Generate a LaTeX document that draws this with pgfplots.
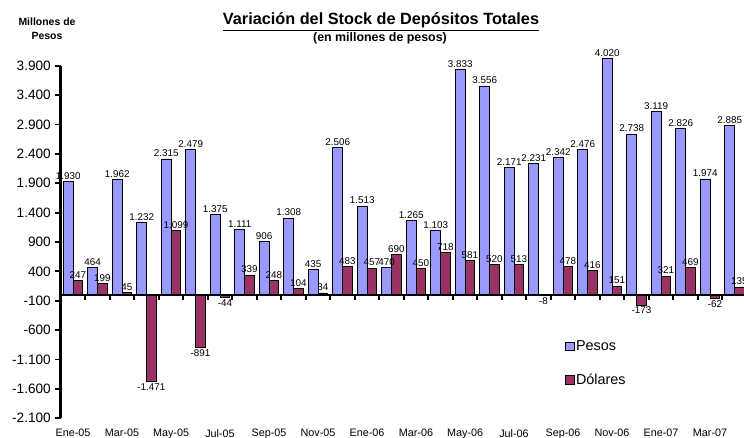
\documentclass[border=0pt]{standalone}
\usepackage{fontspec}
\setmainfont{Liberation Sans}
\usepackage{pgfplots}
\usepackage{pgfplotstable}
\pgfplotsset{compat=1.18}
\definecolor{pesos}{HTML}{9999FF}
\definecolor{dolares}{HTML}{993366}

\pgfplotstableread{
x pesos dolares
0 1930 247
1 464 199
2 1962 45
3 1232 -1471
4 2315 1099
5 2479 -891
6 1375 -44
7 1111 339
8 906 248
9 1308 104
10 435 34
11 2506 483
12 1513 457
13 470 690
14 1265 450
15 1103 718
16 3833 581
17 3556 520
18 2171 513
19 2231 -8
20 2342 478
21 2476 416
22 4020 151
23 2738 -173
24 3119 321
25 2826 469
26 1974 -62
27 2885 135
}\data

\begin{document}
\begin{tikzpicture}
\begin{axis}[
 scale only axis,
 width=514.5pt, height=264.45pt,
 xmin=-0.5, xmax=27.5,
 ymin=-2100, ymax=3900,
 clip=false,
 ybar=0pt, bar width=7.3pt,
 axis y line=left,
 axis x line*=bottom,
 x axis line style={draw=none},
 y axis line style={-, line width=2.2pt},
 xtick={0,2,...,26},
 xticklabels={Ene-05,Mar-05,May-05,Jul-05,Sep-05,Nov-05,Ene-06,Mar-06,May-06,Jul-06,Sep-06,Nov-06,Ene-07,Mar-07},
 x tick style={draw=none},
 xticklabel style={font=\fontsize{8.1}{9}\selectfont, yshift=-0.8pt},
 ytick={-2100,-1600,...,3900},
 y tick style={line width=1.4pt, black},
 tick align=outside,
 major tick length=4pt,
 yticklabel style={font=\fontsize{10.2}{11}\selectfont},
 scaled y ticks=false,
 /pgf/number format/1000 sep={.},
 /pgf/number format/assume math mode=true,
 nodes near coords,
 every node near coord/.append style={font=\fontsize{7.4}{8}\selectfont, black, inner sep=1.2pt},
 legend style={at={(0.733,0.229)}, anchor=north west, draw=none, fill=none,
   font=\fontsize{10.8}{12}\selectfont, row sep=14pt, inner sep=1pt, nodes={inner sep=1pt}},
 legend cell align=left,
 legend image code/.code={\draw[#1, line width=0.5pt, draw=black] (0pt,-3.3pt) rectangle (6.6pt,3.3pt);},
]
\addplot[fill=pesos, draw=black, line width=0.5pt] table[x=x, y=pesos] {\data};
\addplot[fill=dolares, draw=black, line width=0.5pt] table[x=x, y=dolares] {\data};
\legend{Pesos, Dólares}
\draw[line width=1.8pt] (axis cs:-0.5,0) -- (axis cs:27.7,0);
\pgfplotsinvokeforeach{0.5,1.5,2.5,3.5,4.5,5.5,6.5,7.5,8.5,9.5,10.5,11.5,12.5,13.5,14.5,15.5,16.5,17.5,18.5,19.5,20.5,21.5,22.5,23.5,24.5,25.5,26.5}{
  \draw[line width=1.4pt] (axis cs:#1,0) -- ([yshift=-4pt]axis cs:#1,0);
}
\end{axis}
\begin{scope}[x=0.75pt, y=-0.75pt, shift={(-45.6pt,313.725pt)}]
 \node[font=\bfseries\fontsize{12.2}{14}\selectfont, anchor=base, inner sep=0pt] at (381,25) {\underline{Variación del Stock de Depósitos Totales}};
 \node[font=\bfseries\fontsize{9.3}{11}\selectfont, anchor=base, inner sep=0pt] at (380,41.5) {(en millones de pesos)};
 \node[font=\bfseries\fontsize{7.85}{9}\selectfont, anchor=base, inner sep=0pt] at (47,26) {Millones de};
 \node[font=\bfseries\fontsize{7.85}{9}\selectfont, anchor=base, inner sep=0pt] at (47,39.5) {Pesos};
\end{scope}
\pgfresetboundingbox
\path (-45.6pt,-14.775pt) rectangle (512.4pt,313.725pt);
\end{tikzpicture}
\end{document}
